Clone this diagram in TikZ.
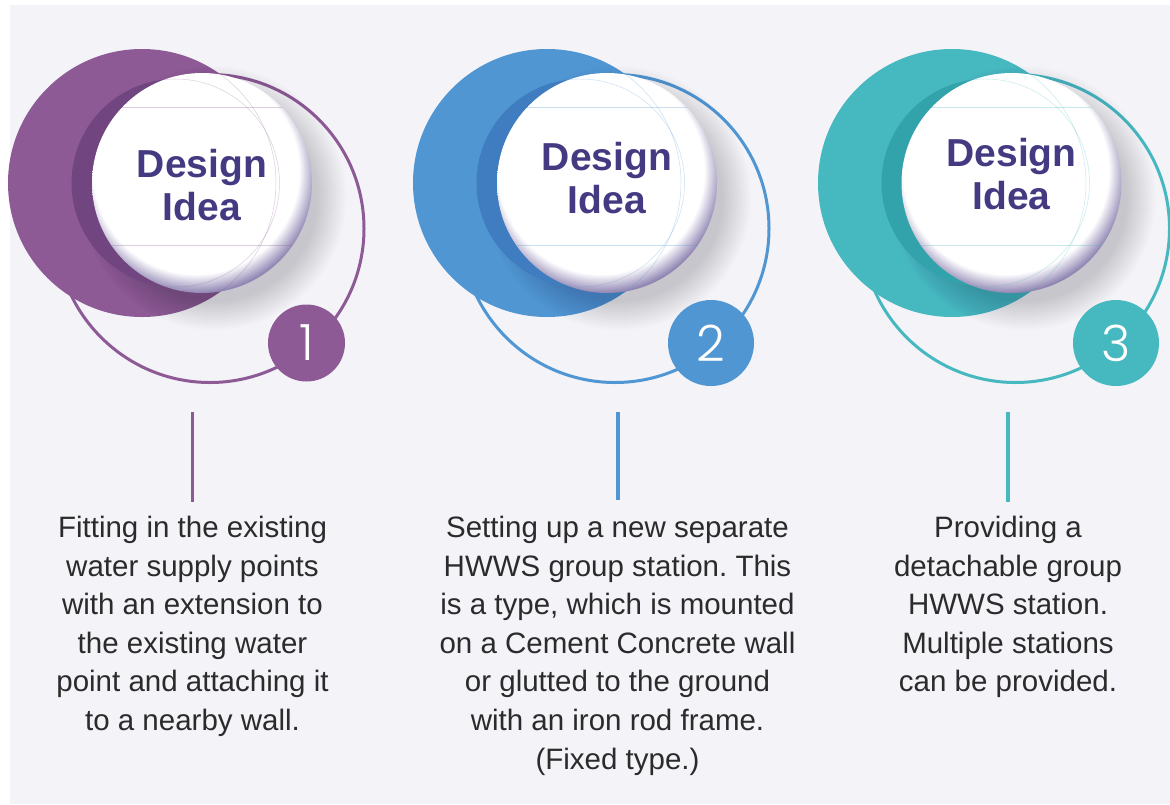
\documentclass[tikz,border=0pt]{standalone}
\usepackage{fontspec}
\setmainfont{Liberation Sans}
\newfontfamily\numfont{Poppins Light}
\usetikzlibrary{calc}
\frenchspacing
\definecolor{pagebg}{HTML}{F3F3F8}
\definecolor{headcol}{HTML}{433A82}
\definecolor{bodycol}{HTML}{2B2B2B}
\definecolor{rimcol}{HTML}{8F84B2}
\definecolor{purpleA}{HTML}{8D5A96}\definecolor{purpleB}{HTML}{714680}
\definecolor{blueA}{HTML}{4F96D3}\definecolor{blueB}{HTML}{3F7CC0}
\definecolor{tealA}{HTML}{46B8C0}\definecolor{tealB}{HTML}{33A3AB}
\pgfdeclareradialshading{ballrim}{\pgfpoint{0bp}{0bp}}{
 color(0bp)=(white); color(20.6bp)=(white); color(24.4bp)=(rimcol); color(50bp)=(rimcol)}
\tikzset{
 headtext/.style={font=\bfseries\fontsize{39}{43}\selectfont,text=headcol,align=center,inner sep=0pt},
 numtext/.style={font=\numfont\fontsize{50}{50}\selectfont,text=white,inner sep=0pt},
 bodytext/.style={font=\fontsize{29.5}{38.6}\selectfont,text=bodycol,align=center,inner sep=0pt,anchor=north},
 ringline/.style={line width=3pt},
 stemline/.style={line width=3.2pt},
 faint/.style={line width=0.5pt,opacity=0.3}
}
\newcommand{\ideaunit}[7]{% 1 big x,2 ball x,3 ring x,4 crescent x,5 colA,6 colB,7 head y
 \draw[ringline,#5] (#3,228.5) circle[radius=154];
 \fill[#5] (#1,183) circle[radius=134];
 \foreach \r in {104,106,...,132}{\fill[black!85!blue,opacity=0.012] (#2+12,198) circle[radius=\r];}
 \begin{scope}
  \clip (#1,183) circle[radius=134];
  \fill[#6] (#4,183) circle[radius=104];
 \end{scope}
 \begin{scope}
  \clip (#2,183) circle[radius=110];
  \shade[shading=ballrim] (#2-6,183-12) circle[radius=125];
  \draw[faint,#5] (#2-90,107.5) -- (#2+90,107.5);
  \draw[faint,#5] (#2-90,245.5) -- (#2+90,245.5);
  \draw[faint,#5] (#1,183) circle[radius=134];
  \draw[faint,#5] (#4,183) circle[radius=104];
 \end{scope}
 \node[headtext] at (#2,#7) {Design\\Idea};
}
\begin{document}
\begin{tikzpicture}[x=1pt,y=-1pt]
\useasboundingbox (0,0) rectangle (1170,804);
\fill[pagebg] (10,5) rectangle (1170,804);
\begin{scope}
\clip (0,0) rectangle (1170,804);
\ideaunit{142}{202}{210}{175.5}{purpleA}{purpleB}{185}
\ideaunit{547}{607}{615}{580.5}{blueA}{blueB}{178}
\ideaunit{952}{1011.5}{1015.5}{985.5}{tealA}{tealB}{174}
\end{scope}
\node[circle,fill=purpleA,minimum size=77pt,inner sep=0pt] (badgeA) at (306.5,343) {};
\node[numtext] at (badgeA) {1};
\node[circle,fill=blueA,minimum size=86pt,inner sep=0pt] (badgeB) at (711,343) {};
\node[numtext] at (badgeB) {2};
\node[circle,fill=tealA,minimum size=86pt,inner sep=0pt] (badgeC) at (1116,343) {};
\node[numtext] at (badgeC) {3};
\coordinate (stemAtop) at (192.5,412);
\coordinate (stemBtop) at (618,412);
\coordinate (stemCtop) at (1008,412);
\node[bodytext] (bodyA) at (192.5,516) {Fitting in the existing\\water supply points\\with an extension to\\the existing water\\point and attaching it\\to a nearby wall.};
\node[bodytext] (bodyB) at (617.5,516) {Setting up a new separate\\HWWS group station. This\\is a type, which is mounted\\on a Cement Concrete wall\\or glutted to the ground\\with an iron rod frame.\\(Fixed type.)};
\node[bodytext] (bodyC) at (1008,516) {Providing a\\detachable group\\HWWS station.\\Multiple stations\\can be provided.};
\draw[stemline,purpleA] (stemAtop) -- (stemAtop|-0,502);
\draw[stemline,blueA] (stemBtop) -- (stemBtop|-0,500);
\draw[stemline,tealA] (stemCtop) -- (stemCtop|-0,502);
\end{tikzpicture}
\end{document}
